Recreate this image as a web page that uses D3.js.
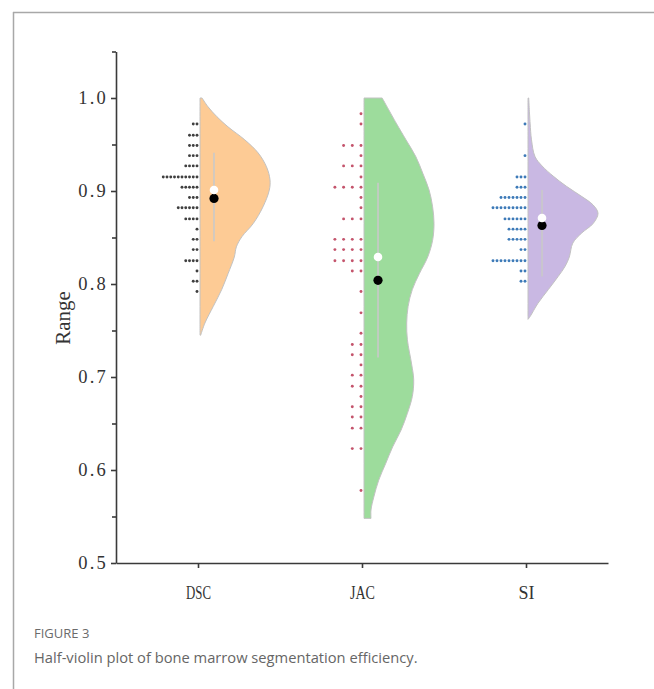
<!DOCTYPE html>
<html>
<head>
<meta charset="utf-8">
<script src="https://cdn.jsdelivr.net/npm/d3@7"></script>
<style>
  body { margin: 0; background: #fff; }
  svg { display: block; }
</style>
</head>
<body>
<div id="chart-area"></div>
<script>
// categories and summary values
const categories = ["DSC", "JAC", "SI"];
const boxLow  = [0.846, 0.721, 0.808];
const boxHigh = [0.941, 0.909, 0.901];
const medians = [0.901, 0.829, 0.871];
const means   = [0.892, 0.804, 0.863];

// dot-plot bins (shared grid) and counts per group
const dotBins = [0.983, 0.972, 0.960, 0.949, 0.938, 0.927, 0.915, 0.904, 0.893, 0.882,
                 0.870, 0.859, 0.848, 0.837, 0.825, 0.814, 0.803, 0.792, 0.780, 0.769,
                 0.758, 0.747, 0.735, 0.724, 0.713, 0.702, 0.690, 0.679, 0.668, 0.657,
                 0.645, 0.634, 0.623, 0.612, 0.600, 0.589, 0.578];
const dscCounts = [0, 2, 3, 3, 3, 4, 10, 5, 3, 6, 4, 1, 2, 2, 4, 1, 2, 1, 0, 0,
                   0, 0, 0, 0, 0, 0, 0, 0, 0, 0, 0, 0, 0, 0, 0, 0, 0];
const jacCounts = [1, 1, 0, 3, 1, 3, 1, 4, 1, 1, 3, 0, 4, 4, 4, 2, 0, 1, 0, 1,
                   0, 1, 2, 2, 1, 2, 2, 1, 2, 2, 2, 0, 2, 0, 0, 0, 1];
const siCounts  = [0, 1, 0, 0, 1, 0, 3, 3, 7, 9, 6, 5, 5, 2, 9, 2, 2, 0, 0, 0,
                   0, 0, 0, 0, 0, 0, 0, 0, 0, 0, 0, 0, 0, 0, 0, 0, 0];

// half-violin outlines: [value, relative density]
const dscViolin = [[1.000, 0.03], [0.991, 0.11], [0.980, 0.24], [0.969, 0.40], [0.955, 0.64],
                   [0.941, 0.83], [0.926, 0.95], [0.912, 1.00], [0.901, 0.99], [0.883, 0.90],
                   [0.865, 0.76], [0.851, 0.60], [0.840, 0.52], [0.829, 0.49], [0.811, 0.40],
                   [0.794, 0.31], [0.776, 0.19], [0.758, 0.07], [0.745, 0.01]];
const jacViolin = [[1.000, 0.26], [0.973, 0.46], [0.955, 0.60], [0.937, 0.74], [0.919, 0.84],
                   [0.901, 0.93], [0.883, 0.98], [0.865, 1.00], [0.847, 0.98], [0.829, 0.91],
                   [0.811, 0.79], [0.794, 0.69], [0.776, 0.63], [0.758, 0.61], [0.740, 0.62],
                   [0.714, 0.68], [0.697, 0.71], [0.679, 0.69], [0.661, 0.62], [0.643, 0.53],
                   [0.625, 0.41], [0.607, 0.31], [0.589, 0.21], [0.571, 0.14], [0.557, 0.10],
                   [0.548, 0.10]];
const siViolin  = [[1.000, 0.01], [0.973, 0.03], [0.955, 0.05], [0.937, 0.10], [0.927, 0.20],
                   [0.916, 0.36], [0.905, 0.55], [0.894, 0.77], [0.885, 0.93], [0.876, 1.00],
                   [0.865, 0.93], [0.855, 0.77], [0.844, 0.64], [0.829, 0.59], [0.819, 0.53],
                   [0.808, 0.43], [0.794, 0.29], [0.779, 0.14], [0.765, 0.03], [0.762, 0.0]];

const yTicks = [0.5, 0.6, 0.7, 0.8, 0.9, 1.0];
const yMinorTicks = [0.55, 0.65, 0.75, 0.85, 0.95, 1.05];

const groups = [
  {name: "DSC", counts: dscCounts, violin: dscViolin, fill: "#fdcb95", dot: "#3f3f3f", gap: 3.75},
  {name: "JAC", counts: jacCounts, violin: jacViolin, fill: "#9ddc9c", dot: "#c4546c", gap: 8.7},
  {name: "SI",  counts: siCounts,  violin: siViolin,  fill: "#c9b8e3", dot: "#3d7ab8", gap: 4.0}
];

const width = 654, height = 689;
const svg = d3.select("#chart-area")
    .append("svg")
    .attr("width", width)
    .attr("height", height);

// frame lines of the figure panel
svg.append("line")
    .attr("x1", 13).attr("x2", width).attr("y1", 12.5).attr("y2", 12.5)
    .attr("stroke", "#a8a8a8").attr("stroke-width", 1.5);
svg.append("line")
    .attr("x1", 13.5).attr("x2", 13.5).attr("y1", 12).attr("y2", height)
    .attr("stroke", "#a8a8a8").attr("stroke-width", 1.5);

const y = d3.scaleLinear()
    .domain([0.5, 1.05])
    .range([563, 51.5]);

const x = d3.scalePoint()
    .domain(categories)
    .range([116, 608])
    .padding(0.5);

const w = d3.scaleLinear().domain([0, 1]).range([0, 70]);

// violins
groups.forEach((g, i) => {
    const x0 = x(g.name) + 2;
    const area = d3.area()
        .y(d => y(d[0]))
        .x0(x0)
        .x1(d => x0 + w(d[1]))
        .curve(d3.curveCatmullRom.alpha(0.5));
    svg.append("path")
        .datum(g.violin)
        .attr("d", area)
        .attr("fill", g.fill)
        .attr("stroke", "#c2c2c2")
        .attr("stroke-width", 1);
});

// dots to the left of each violin
groups.forEach(g => {
    const xr = x(g.name) - 1;
    const pts = [];
    g.counts.forEach((c, k) => {
        for (let j = 0; j < c; j++) pts.push({v: dotBins[k], j: j});
    });
    svg.append("g").selectAll("circle")
        .data(pts)
        .enter()
        .append("circle")
        .attr("cx", d => xr - d.j * g.gap)
        .attr("cy", d => y(d.v))
        .attr("r", 1.45)
        .attr("fill", g.dot);
});

// box line, mean (black) and median (white)
groups.forEach((g, i) => {
    const bx = x(g.name) + 16;
    svg.append("line")
        .attr("x1", bx).attr("x2", bx)
        .attr("y1", y(boxHigh[i])).attr("y2", y(boxLow[i]))
        .attr("stroke", "#c9c9c9").attr("stroke-width", 1.6);
    svg.append("circle")
        .attr("cx", bx).attr("cy", y(means[i]))
        .attr("r", 4.6).attr("fill", "#000");
    svg.append("circle")
        .attr("cx", bx).attr("cy", y(medians[i]))
        .attr("r", 4.3).attr("fill", "#fff");
});

// y axis
const yAxis = svg.append("g")
    .attr("transform", "translate(116,0)")
    .call(d3.axisLeft(y).tickValues(yTicks).tickSize(5).tickSizeOuter(0).tickPadding(3)
        .tickFormat(d3.format(".1f")));
svg.append("g")
    .attr("transform", "translate(116,0)")
    .call(d3.axisLeft(y).tickValues(yMinorTicks).tickSize(4).tickFormat(""))
    .select(".domain").remove();

yAxis.selectAll("text")
    .attr("font-family", "'Liberation Serif', 'DejaVu Serif', serif")
    .attr("font-size", 18.5)
    .attr("letter-spacing", 2.2)
    .attr("fill", "#333");

// x axis
const xAxis = svg.append("g")
    .attr("transform", "translate(0,563)")
    .call(d3.axisBottom(x).tickSize(5).tickSizeOuter(0).tickPadding(0));

xAxis.selectAll("text")
    .attr("y", 23)
    .attr("dy", "0.71em")
    .attr("font-family", "'Liberation Serif', 'DejaVu Serif', serif")
    .attr("font-size", 19)
    .attr("fill", "#333")
    .attr("textLength", d => d === "SI" ? 16 : 25)
    .attr("lengthAdjust", "spacingAndGlyphs");

svg.selectAll(".domain, .tick line")
    .attr("stroke", "#3a3a3a")
    .attr("stroke-width", 1.6);

// axis title
svg.append("text")
    .attr("transform", "translate(70,318) rotate(-90)")
    .attr("text-anchor", "middle")
    .attr("font-family", "'Liberation Serif', 'DejaVu Serif', serif")
    .attr("font-size", 21)
    .attr("fill", "#333")
    .text("Range");

// caption
svg.append("text")
    .attr("x", 34).attr("y", 638)
    .attr("font-family", "'Open Sans', 'Noto Sans', sans-serif")
    .attr("font-size", 13)
    .attr("fill", "#6b6b6b")
    .text("FIGURE 3");
svg.append("text")
    .attr("x", 34).attr("y", 663)
    .attr("font-family", "'Open Sans', 'Noto Sans', sans-serif")
    .attr("font-size", 14.7)
    .attr("fill", "#666")
    .text("Half-violin plot of bone marrow segmentation efficiency.");
</script>
</body>
</html>
